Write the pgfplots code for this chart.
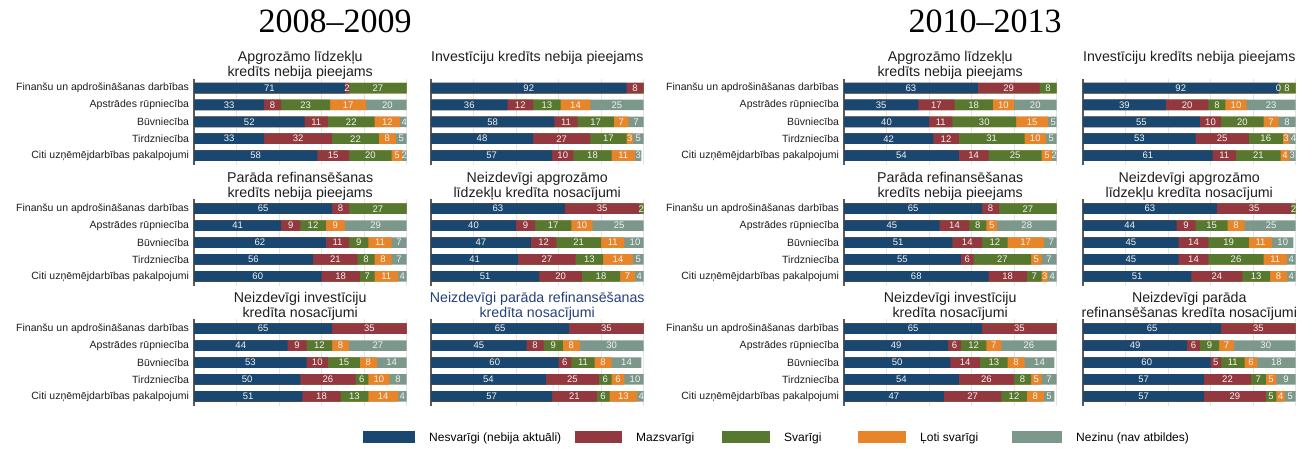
\documentclass[border=0pt]{standalone}
\usepackage{fontspec}
\setmainfont{Liberation Sans}
\newfontfamily\yrfont{Liberation Serif}
\usepackage{pgfplots}
\pgfplotsset{compat=1.18}
\usepackage{pgfplotstable}

\definecolor{cblue}{RGB}{25,71,111}
\definecolor{cred}{RGB}{148,56,64}
\definecolor{cgreen}{RGB}{86,121,47}
\definecolor{corange}{RGB}{231,133,40}
\definecolor{cgray}{RGB}{123,152,139}
\definecolor{ctxt}{RGB}{30,30,30}
\definecolor{ctblue}{RGB}{36,64,122}

% 2008-2009
\pgfplotstableread{
a b c d e
71 2 27 0 0
33 8 23 17 20
52 11 22 12 4
33 32 22 8 5
58 15 20 5 2
}\tA
\pgfplotstableread{
a b c d e
92 8 0 0 0
36 12 13 14 25
58 11 17 7 7
48 27 17 3 5
57 10 18 11 3
}\tB
\pgfplotstableread{
a b c d e
65 8 27 0 0
41 9 12 9 29
62 11 9 11 7
56 21 8 8 7
60 18 7 11 4
}\tE
\pgfplotstableread{
a b c d e
63 35 2 0 0
40 9 17 10 25
47 12 21 11 10
41 27 13 14 5
51 20 18 7 4
}\tF
\pgfplotstableread{
a b c d e
65 35 0 0 0
44 9 12 8 27
53 10 15 8 14
50 26 6 10 8
51 18 13 14 4
}\tI
\pgfplotstableread{
a b c d e
65 35 0 0 0
45 8 9 8 30
60 6 11 8 14
54 25 6 6 10
57 21 6 13 4
}\tJ
% 2010-2013
\pgfplotstableread{
a b c d e
63 29 8 0 0
35 17 18 10 20
40 11 30 15 5
42 12 31 10 5
54 14 25 5 2
}\tC
\pgfplotstableread{
a b c d e
92 0.01 8 0 0
39 20 8 10 23
55 10 20 7 8
53 25 16 3 4
61 11 21 4 3
}\tD
\pgfplotstableread{
a b c d e
65 8 27 0 0
45 14 8 5 28
51 14 12 17 7
55 6 27 5 7
68 18 7 3 4
}\tG
\pgfplotstableread{
a b c d e
63 35 2 0 0
44 9 15 8 25
45 14 19 11 10
45 14 26 11 4
51 24 13 8 4
}\tH
\pgfplotstableread{
a b c d e
65 35 0 0 0
49 6 12 7 26
50 14 13 8 14
54 26 8 5 7
47 27 12 8 5
}\tK
\pgfplotstableread{
a b c d e
65 35 0 0 0
49 6 9 7 30
60 5 11 6 18
57 22 7 5 9
57 29 5 4 5
}\tL

\pgfplotsset{
  panel/.style={scale only axis, anchor=north west, width=212.5pt, height=86.2pt,
    xmin=0, xmax=100, ymin=-0.55, ymax=4.55, y dir=reverse,
    axis lines*=left, x axis line style={draw=none},
    y axis line style={draw=black!65, line width=1.2pt},
    xtick={20,40,60,80,100}, xticklabels={}, xmajorgrids,
    grid style={draw=black!10, line width=0.7pt},
    ytick={0,...,4}, major tick length=0pt,
    yticklabel style={font=\fontsize{10.5}{12}\selectfont, text=ctxt, xshift=-1.5pt},
    yticklabels={}},
  cats/.style={yticklabels={Finanšu un apdrošināšanas darbības, Apstrādes rūpniecība,
    Būvniecība, Tirdzniecība, Citi uzņēmējdarbības pakalpojumi}},
  seg/.style={xbar, bar width=10.5pt, bar shift=0pt, draw=none},
  vlab/.style={draw=none, mark=none,
    nodes near coords={\pgfmathfloatifflags{\pgfplotspointmeta}{0}{}{\pgfmathprintnumber[fixed,precision=0,assume math mode=true]{\pgfplotspointmeta}}},
    every node near coord/.append style={anchor=center, inner sep=0pt, text=white!95!black,
      font=\fontsize{9.5}{10}\selectfont}},
}

\newcommand\panel[4]{%
\begin{axis}[panel, at={(#1pt,-#2pt)}, #4]
\addplot[seg, fill=cgray] table[x expr=\thisrow{a}+\thisrow{b}+\thisrow{c}+\thisrow{d}+\thisrow{e}, y expr=\coordindex]{#3};
\addplot[seg, fill=corange] table[x expr=\thisrow{a}+\thisrow{b}+\thisrow{c}+\thisrow{d}, y expr=\coordindex]{#3};
\addplot[seg, fill=cgreen] table[x expr=\thisrow{a}+\thisrow{b}+\thisrow{c}, y expr=\coordindex]{#3};
\addplot[seg, fill=cred] table[x expr=\thisrow{a}+\thisrow{b}, y expr=\coordindex]{#3};
\addplot[seg, fill=cblue] table[x=a, y expr=\coordindex]{#3};
\addplot[vlab, point meta=\thisrow{a}] table[x expr=\thisrow{a}/2, y expr=\coordindex]{#3};
\addplot[vlab, point meta=\thisrow{b}] table[x expr=\thisrow{a}+\thisrow{b}/2, y expr=\coordindex]{#3};
\addplot[vlab, point meta=\thisrow{c}] table[x expr=\thisrow{a}+\thisrow{b}+\thisrow{c}/2, y expr=\coordindex]{#3};
\addplot[vlab, point meta=\thisrow{d}] table[x expr=\thisrow{a}+\thisrow{b}+\thisrow{c}+\thisrow{d}/2, y expr=\coordindex]{#3};
\addplot[vlab, point meta=\thisrow{e}] table[x expr=\thisrow{a}+\thisrow{b}+\thisrow{c}+\thisrow{d}+\thisrow{e}/2, y expr=\coordindex]{#3};
\end{axis}}

\newcommand\ttl[4][ctxt]{\node[anchor=base, text=#1, font=\fontsize{14.2}{15}\selectfont] at (#2pt,-#3pt) {#4};}

\begin{document}
\begin{tikzpicture}
\path[use as bounding box] (0,0) rectangle (1316pt,-448pt);

\node[anchor=base, font=\yrfont\fontsize{34}{38}\selectfont] at (335pt,-32pt) {2008–2009};
\node[anchor=base, font=\yrfont\fontsize{34}{38}\selectfont] at (985pt,-32pt) {2010–2013};

% row 1
\panel{194}{78.7}{\tA}{cats}
\panel{431}{78.7}{\tB}{}
\panel{844}{78.7}{\tC}{cats}
\panel{1083}{78.7}{\tD}{}
% row 2
\panel{194}{199.4}{\tE}{cats}
\panel{431}{199.4}{\tF}{}
\panel{844}{199.4}{\tG}{cats}
\panel{1083}{199.4}{\tH}{}
% row 3
\panel{194}{319.4}{\tI}{cats}
\panel{431}{319.4}{\tJ}{}
\panel{844}{319.4}{\tK}{cats}
\panel{1083}{319.4}{\tL}{}

% panel titles
\ttl{300.25}{61.5}{Apgrozāmo līdzekļu}
\ttl{300.25}{76.5}{kredīts nebija pieejams}
\ttl{537.25}{61.5}{Investīciju kredīts nebija pieejams}
\ttl{950.25}{61.5}{Apgrozāmo līdzekļu}
\ttl{950.25}{76.5}{kredīts nebija pieejams}
\ttl{1189.25}{61.5}{Investīciju kredīts nebija pieejams}

\ttl{300.25}{182.2}{Parāda refinansēšanas}
\ttl{300.25}{197.2}{kredīts nebija pieejams}
\ttl{537.25}{182.2}{Neizdevīgi apgrozāmo}
\ttl{537.25}{197.2}{līdzekļu kredīta nosacījumi}
\ttl{950.25}{182.2}{Parāda refinansēšanas}
\ttl{950.25}{197.2}{kredīts nebija pieejams}
\ttl{1189.25}{182.2}{Neizdevīgi apgrozāmo}
\ttl{1189.25}{197.2}{līdzekļu kredīta nosacījumi}

\ttl{300.25}{302.2}{Neizdevīgi investīciju}
\ttl{300.25}{317.2}{kredīta nosacījumi}
\ttl[ctblue]{537.25}{302.2}{Neizdevīgi parāda refinansēšanas}
\ttl[ctblue]{537.25}{317.2}{kredīta nosacījumi}
\ttl{950.25}{302.2}{Neizdevīgi investīciju}
\ttl{950.25}{317.2}{kredīta nosacījumi}
\ttl{1189.25}{302.2}{Neizdevīgi parāda}
\ttl{1189.25}{317.2}{refinansēšanas kredīta nosacījumi}

% legend
\begin{scope}[font=\fontsize{12}{14}\selectfont]
\fill[cblue] (363pt,-431pt) rectangle (415pt,-443pt);
\node[anchor=base west, inner sep=0pt] at (429pt,-441pt) {Nesvarīgi (nebija aktuāli)};
\fill[cred] (575pt,-431pt) rectangle (622pt,-443pt);
\node[anchor=base west, inner sep=0pt] at (636pt,-441pt) {Mazsvarīgi};
\fill[cgreen] (722pt,-431pt) rectangle (770pt,-443pt);
\node[anchor=base west, inner sep=0pt] at (784pt,-441pt) {Svarīgi};
\fill[corange] (858pt,-431pt) rectangle (906pt,-443pt);
\node[anchor=base west, inner sep=0pt] at (920pt,-441pt) {Ļoti svarīgi};
\fill[cgray] (1012pt,-431pt) rectangle (1062pt,-443pt);
\node[anchor=base west, inner sep=0pt] at (1076pt,-441pt) {Nezinu (nav atbildes)};
\end{scope}
\end{tikzpicture}
\end{document}
